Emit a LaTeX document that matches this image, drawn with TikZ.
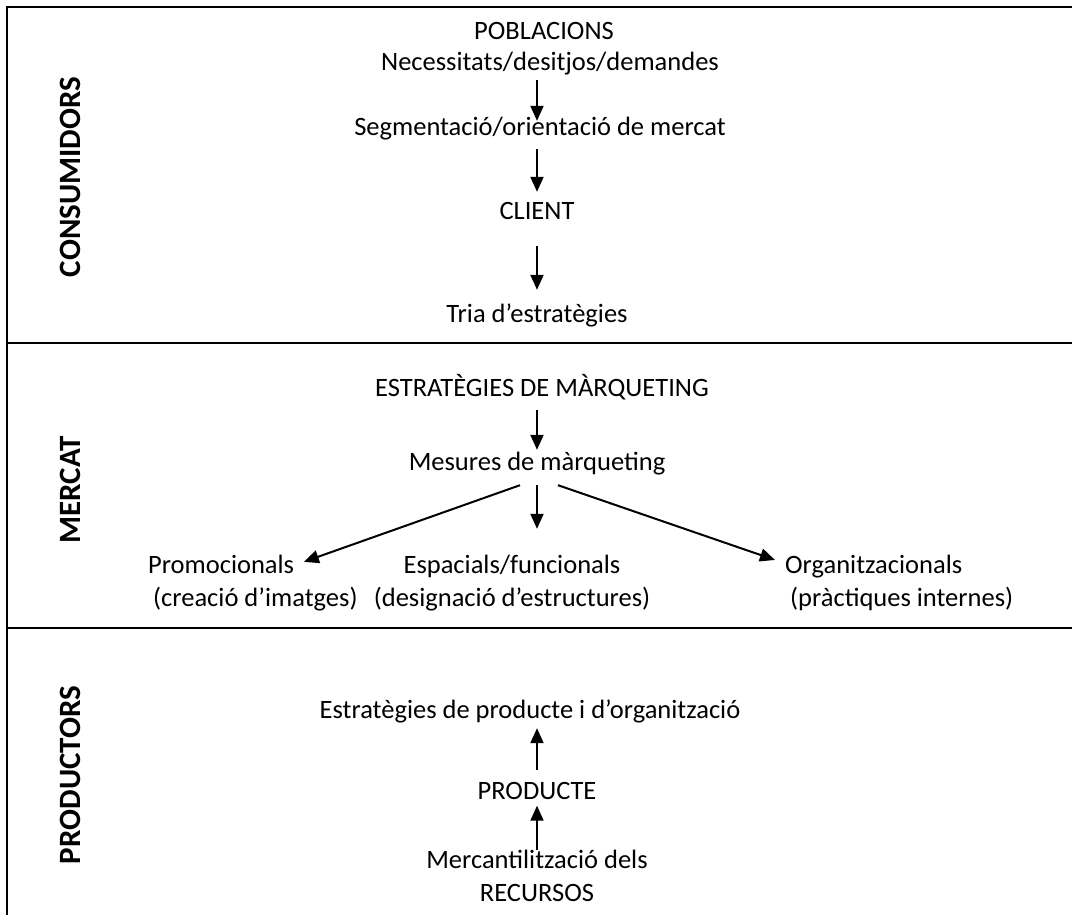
\documentclass[tikz,border=0pt]{standalone}
\usepackage{fontspec}
\setmainfont{Carlito}
\usetikzlibrary{arrows.meta}
\begin{document}
\begin{tikzpicture}[x=1pt,y=-1pt,
  lbl/.style={font=\fontsize{26.5}{33}\selectfont, inner sep=0pt,
              text height=19pt, text depth=6pt},
  twoline/.style={font=\fontsize{26.5}{33}\selectfont, inner sep=0pt},
  side/.style={font=\fontsize{31}{36}\selectfont\bfseries, rotate=90, inner sep=0pt},
  arr/.style={line width=2pt, -{Triangle[length=15pt,width=13pt]}},
  rule/.style={line width=2.6pt}]
\useasboundingbox (0,0) rectangle (1072,915);

% frame and band separators
\draw[rule] (7,915) -- (7,7) -- (1072,7);
\draw[rule] (7,343) -- (1072,343);
\draw[line width=2pt] (7,628) -- (1072,628);

% band titles
\node[side] (tcons) at (70,177) {CONSUMIDORS};
\node[side] (tmerc) at (70,490) {MERCAT};
\node[side] (tprod) at (70,775) {PRODUCTORS};

% central axis of the vertical arrows
\coordinate (axis) at (537,0);

% consumers band
\node[lbl] (pob)  at (544,33)  {POBLACIONS};
\node[lbl] (nec)  at (550,64)  {Necessitats/desitjos/demandes};
\node[lbl] (seg)  at (540,129) {Segmentació/orientació de mercat};
\node[lbl] (cli)  at (537,213) {CLIENT};
\node[lbl] (tria) at (537,316) {Tria d’estratègies};

\draw[arr, shorten <=3.5pt, shorten >=-4.5pt] (nec.south -| axis) -- (seg.north -| axis);
\draw[arr, shorten <=7.5pt, shorten >=8.5pt] (seg.south -| axis) -- (cli.north -| axis);
\draw[arr, shorten <=20pt, shorten >=13.5pt] (cli.south -| axis) -- (tria.north -| axis);

% market band
\node[lbl] (estr) at (542,390) {ESTRATÈGIES DE MÀRQUETING};
\node[lbl] (mes)  at (537,464) {Mesures de màrqueting};
\node[twoline, align=left, anchor=west] (promo) at (148,583)
  {Promocionals\\\hspace*{5pt}(creació d’imatges)};
\node[twoline, align=center] (esp) at (512,583)
  {Espacials/funcionals\\(designació d’estructures)};
\node[twoline, align=left, anchor=west] (org) at (785,583)
  {Organitzacionals\\\hspace*{5pt}(pràctiques internes)};

\draw[arr, shorten <=7.5pt, shorten >=1.5pt] (estr.south -| axis) -- (mes.north -| axis);
\draw[arr, shorten <=8.5pt, shorten >=26pt] (mes.south -| axis) -- (esp.north -| axis);
\draw[arr] ([xshift=-17pt,yshift=-8.5pt]mes.south) -- ([xshift=51pt,yshift=-7pt]promo.north);
\draw[arr] ([xshift=21pt,yshift=-8.5pt]mes.south) -- ([xshift=-10pt,yshift=-5pt]org.north west);

% producers band
\node[lbl] (estrp) at (530,712) {Estratègies de producte i d’organització};
\node[lbl] (prod)  at (537,793) {PRODUCTE};
\node[twoline, align=center] (merc) at (537,876) {Mercantilització dels\\RECURSOS};

\draw[arr, shorten <=10.5pt, shorten >=3.5pt] (prod.north -| axis) -- (estrp.south -| axis);
\draw[arr, shorten <=0pt, shorten >=0pt] (merc.north -| axis) -- (prod.south -| axis);
\end{tikzpicture}
\end{document}
